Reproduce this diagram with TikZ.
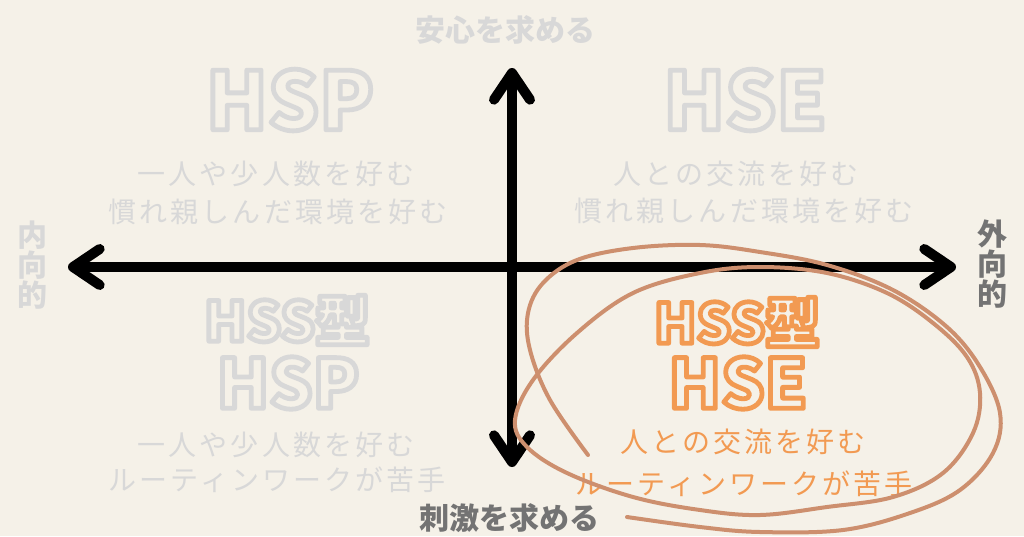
\documentclass[tikz,border=0pt]{standalone}
\usepackage{fontspec}
\usetikzlibrary{arrows.meta}
\newfontfamily\jp{Noto Sans CJK JP}
\newfontfamily\jpsub{Noto Sans CJK JP}[LetterSpace=11]
\definecolor{bg}{RGB}{245,241,232}
\definecolor{lgray}{RGB}{216,216,216}
\definecolor{dgray}{RGB}{115,115,115}
\definecolor{orng}{RGB}{242,154,82}
\definecolor{brn}{RGB}{205,143,110}
% outlined (stroked, unfilled) text via PDF text render mode 1
\newcommand\outltext[2]{\special{pdf:literal direct 1 Tr 3.6 w 1 j 1 J}\textcolor{#1}{#2}\special{pdf:literal direct 0 Tr}}
\tikzset{
  axisline/.style={line width=7.5pt, line cap=round,
    {Straight Barb[length=20pt, width=27pt, round]}-{Straight Barb[length=20pt, width=27pt, round]}},
  axlab/.style={font=\jp\bfseries\fontsize{22.5pt}{22.5pt}\selectfont, inner sep=0pt},
  vlab/.style={axlab, align=center},
  bigtext/.style={font=\jp\bfseries\fontsize{60pt}{64pt}\selectfont, inner sep=0pt},
  midtext/.style={font=\jp\bfseries\fontsize{51pt}{55pt}\selectfont, inner sep=0pt},
  typtext/.style={font=\jp\bfseries\fontsize{41pt}{45pt}\selectfont, inner sep=0pt},
  subtext/.style={font=\jpsub\fontsize{21pt}{24pt}\selectfont, inner sep=0pt},
  loop/.style={brn, line width=3pt, line cap=round, line join=round}
}
\begin{document}
\begin{tikzpicture}[x=0.75pt, y=-0.75pt]
\fill[bg] (0,0) rectangle (1024,536);
\useasboundingbox (0,0) rectangle (1024,536);

% axes
\coordinate (L) at (68,267);
\coordinate (R) at (956,267);
\coordinate (T) at (512,68);
\coordinate (B) at (512,467);
\draw[axisline] (L) -- (R);
\draw[axisline] (B) -- (T);

% axis labels
\node[axlab, text=lgray] (top) at (505,30) {安心を求める};
\node[axlab, text=dgray] (bot) at (509,518) {刺激を求める};
\node[vlab, text=lgray] (left) at (32,265) {内\\向\\的};
\node[vlab, text=dgray] (right) at (992,264) {外\\向\\的};

% top-left quadrant
\node[bigtext] (tl) at (290,100) {\outltext{lgray}{HSP}};
\node[subtext, text=lgray] (tl1) at (276,174) {一人や少人数を好む};
\node[subtext, text=lgray] (tl2) at (278,212) {慣れ親しんだ環境を好む};

% top-right quadrant
\node[bigtext] (tr) at (745,100) {\outltext{lgray}{HSE}};
\node[subtext, text=lgray] (tr1) at (736,174) {人との交流を好む};
\node[subtext, text=lgray] (tr2) at (744,211) {慣れ親しんだ環境を好む};

% bottom-left quadrant
\node[typtext] (bl0) at (287,320) {\outltext{lgray}{HSS型}};
\node[midtext] (bl) at (288,383) {\outltext{lgray}{HSP}};
\node[subtext, text=lgray] (bl1) at (276,445) {一人や少人数を好む};
\node[subtext, text=lgray] (bl2) at (277,480) {ルーティンワークが苦手};

% bottom-right quadrant
\node[typtext] (br0) at (737,322) {\outltext{orng}{HSS型}};
\node[midtext] (br) at (738,383) {\outltext{orng}{HSE}};
\node[subtext, text=orng] (br1) at (743,442) {人との交流を好む};
\node[subtext, text=orng] (br2) at (744,484) {ルーティンワークが苦手};

% hand-drawn loops
\draw[loop] plot[smooth, tension=0.6] coordinates {(627,517) (700,527) (760,532) (843,530) (910,513) (960,490) (993,453) (1000,413) (980,367) (947,327) (893,290) (827,265) (760,252) (700,245) (633,248) (577,260) (543,283) (528,313) (530,350) (550,400) (588,455)};
\draw[loop] plot[smooth cycle, tension=0.6] coordinates {(760,267) (700,273) (633,293) (577,333) (533,380) (515,420) (527,447) (567,473) (633,497) (700,510) (760,515) (827,507) (893,497) (943,473) (973,433) (980,393) (967,357) (933,323) (887,293) (827,273)};
\end{tikzpicture}
\end{document}
